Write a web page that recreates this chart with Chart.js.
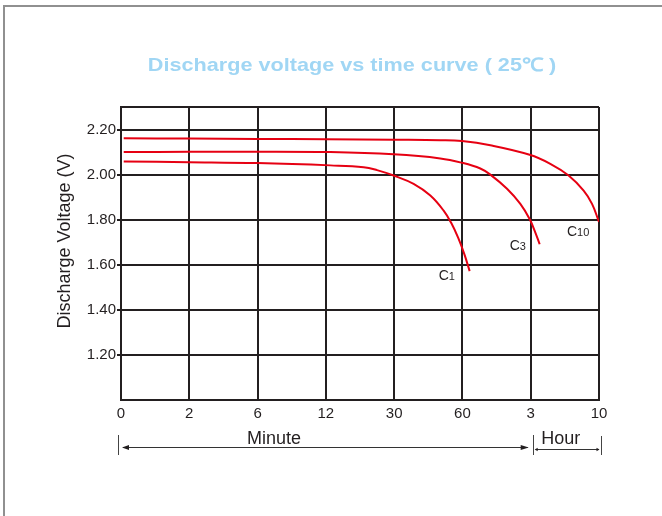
<!DOCTYPE html>
<html><head><meta charset="utf-8">
<script src="https://cdn.jsdelivr.net/npm/chart.js@4.4.0/dist/chart.umd.min.js"></script>
<style>
html,body{margin:0;padding:0;background:#fff;overflow:hidden;}
#frame{position:absolute;left:3px;top:5px;width:700px;height:600px;border-top:2px solid #909090;border-left:2px solid #909090;}
#wrap{position:absolute;left:0;top:0;width:662px;height:516px;}
</style></head><body>
<div id="frame"></div>
<div id="wrap"><canvas id="c"></canvas></div>
<script>
// ---- data ----
const titleText = 'Discharge voltage vs time curve ( 25\u2103 )';
const yAxisTitle = 'Discharge Voltage (V)';
const xLabels = ['0', '2', '6', '12', '30', '60', '3', '10'];
const yTicks = [1.0, 1.2, 1.4, 1.6, 1.8, 2.0, 2.2, 2.3];
const yLabelled = [1.2, 1.4, 1.6, 1.8, 2.0, 2.2];
const seriesNames = ['C1', 'C3', 'C10'];

const c1Time = [0.04, 1, 2, 3.065, 3.553, 3.749, 3.992, 4.285, 4.53, 4.725, 4.837, 4.94, 5.028, 5.106];
const c1Volt = [2.058, 2.055, 2.051, 2.041, 2.033, 2.020, 1.996, 1.959, 1.907, 1.840, 1.785, 1.718, 1.647, 1.572];

const c3Time = [0.04, 1, 2, 3.065, 3.992, 4.676, 5.0, 5.262, 5.409, 5.653, 5.848, 5.984, 6.068, 6.131];
const c3Volt = [2.100, 2.101, 2.102, 2.100, 2.090, 2.072, 2.052, 2.027, 2.000, 1.937, 1.870, 1.803, 1.743, 1.691];

const c10Time = [0.04, 1, 2, 3, 4, 4.676, 4.994, 5.409, 5.984, 6.287, 6.555, 6.775, 6.898, 7.0];
const c10Volt = [2.161, 2.160, 2.158, 2.157, 2.155, 2.153, 2.149, 2.130, 2.088, 2.048, 1.996, 1.929, 1.870, 1.790];

// ---- styles ----
const ink = '#231f20';
const red = '#e60012';
const sansFont = '"Liberation Sans", Arial, sans-serif';

const toPts = (xs, ys) => xs.map((x, i) => ({x: x, y: ys[i]}));
const near = (a, b) => Math.abs(a - b) < 1e-6;

const labelOffsets = [[-31, 9], [-30, 6], [-32, 14]];

const overlay = {
  id: 'overlay',
  afterDraw(chart) {
    const ctx = chart.ctx;
    const xs = chart.scales.x;
    ctx.save();
    // Title (slightly widened bold sans)
    ctx.save();
    ctx.translate(352, 71);
    ctx.scale(1.17, 1);
    ctx.font = 'bold 18.5px ' + sansFont;
    ctx.fillStyle = '#a0d6f4';
    ctx.textAlign = 'center';
    ctx.textBaseline = 'alphabetic';
    ctx.fillText(titleText, 0, 0);
    ctx.restore();

    // Y axis title
    ctx.save();
    ctx.translate(65, 241);
    ctx.rotate(-Math.PI / 2);
    ctx.font = '18px ' + sansFont;
    ctx.fillStyle = ink;
    ctx.textAlign = 'center';
    ctx.textBaseline = 'middle';
    ctx.fillText(yAxisTitle, 0, 0);
    ctx.restore();

    // Series labels with subscripts, anchored at each series' last point
    chart.data.datasets.forEach((ds, i) => {
      const meta = chart.getDatasetMeta(i);
      const last = meta.data[meta.data.length - 1];
      const lx = last.x + labelOffsets[i][0];
      const ly = last.y + labelOffsets[i][1];
      const name = seriesNames[i];
      ctx.fillStyle = ink;
      ctx.textAlign = 'left';
      ctx.textBaseline = 'alphabetic';
      ctx.font = '14px ' + sansFont;
      ctx.fillText(name[0], lx, ly);
      const w = ctx.measureText(name[0]).width;
      ctx.font = '11px ' + sansFont;
      ctx.fillText(name.slice(1), lx + w, ly);
    });

    // Minute / Hour arrows
    const x0 = xs.getPixelForValue(0);
    const x6 = xs.getPixelForValue(6);
    const x7 = xs.getPixelForValue(7);
    ctx.strokeStyle = '#444';
    ctx.fillStyle = ink;
    ctx.lineWidth = 1;
    const vbar = (x, y1, y2) => { ctx.beginPath(); ctx.moveTo(x, y1); ctx.lineTo(x, y2); ctx.stroke(); };
    const hline = (x1, x2, y) => { ctx.beginPath(); ctx.moveTo(x1, y); ctx.lineTo(x2, y); ctx.stroke(); };
    const head = (tipX, y, dir, len, half) => {
      ctx.beginPath();
      ctx.moveTo(tipX, y);
      ctx.lineTo(tipX - dir * len, y - half);
      ctx.lineTo(tipX - dir * len, y + half);
      ctx.closePath();
      ctx.fill();
    };
    vbar(Math.round(x0 - 3) + 0.5, 435, 455);
    vbar(Math.round(x6 + 2) + 0.5, 435, 455);
    vbar(Math.round(x7 + 2) + 0.5, 436, 455);
    ctx.strokeStyle = '#333';
    hline(x0 + 2, x6 - 3, 447.5);
    head(x0 + 1, 447.5, -1, 7, 2.5);
    head(x6 - 2, 447.5, 1, 8, 2.5);
    hline(x6 + 5, x7, 449.5);
    head(x6 + 4, 449.5, -1, 3, 1.8);
    head(x7 + 0.5, 449.5, 1, 3, 1.8);

    ctx.font = '18px ' + sansFont;
    ctx.fillStyle = ink;
    ctx.textAlign = 'center';
    ctx.textBaseline = 'alphabetic';
    ctx.fillText('Minute', x0 + 153, 444);
    ctx.fillText('Hour', x6 + 30, 444);
    ctx.restore();
  }
};

const mkDs = (xs, ys) => ({
  data: toPts(xs, ys),
  borderColor: red,
  borderWidth: 2,
  pointRadius: 0,
  fill: false,
  tension: 0.4
});

new Chart(document.getElementById('c'), {
  type: 'line',
  data: {
    datasets: [mkDs(c1Time, c1Volt), mkDs(c3Time, c3Volt), mkDs(c10Time, c10Volt)]
  },
  options: {
    responsive: true,
    maintainAspectRatio: false,
    animation: false,
    layout: {padding: {left: 0, right: 63, top: 107, bottom: 0}},
    plugins: {legend: {display: false}, tooltip: {enabled: false}, title: {display: false}},
    scales: {
      x: {
        type: 'linear',
        min: 0,
        max: xLabels.length - 1,
        afterBuildTicks: s => { s.ticks = xLabels.map((_, i) => ({value: i})); },
        afterFit: s => { s.height = 116; },
        ticks: {
          callback: v => xLabels[v],
          font: {family: sansFont, size: 15},
          color: ink,
          padding: 5,
          maxRotation: 0,
          autoSkip: false
        },
        grid: {color: ink, lineWidth: 2, drawTicks: false},
        border: {display: true, color: ink, width: 2}
      },
      y: {
        type: 'linear',
        min: yTicks[0],
        max: yTicks[yTicks.length - 1],
        afterBuildTicks: s => { s.ticks = yTicks.map(v => ({value: v})); },
        afterFit: s => { s.width = 121; },
        ticks: {
          callback: v => yLabelled.some(t => near(t, v)) ? v.toFixed(2) : '',
          font: {family: sansFont, size: 15},
          color: ink,
          padding: 1,
          autoSkip: false
        },
        grid: {
          color: ink,
          lineWidth: 2,
          drawTicks: true,
          tickLength: 4,
          tickColor: c => (c.tick && yLabelled.some(t => near(t, c.tick.value))) ? ink : 'rgba(0,0,0,0)'
        },
        border: {display: true, color: ink, width: 2}
      }
    }
  },
  plugins: [overlay]
});
</script>
</body></html>
